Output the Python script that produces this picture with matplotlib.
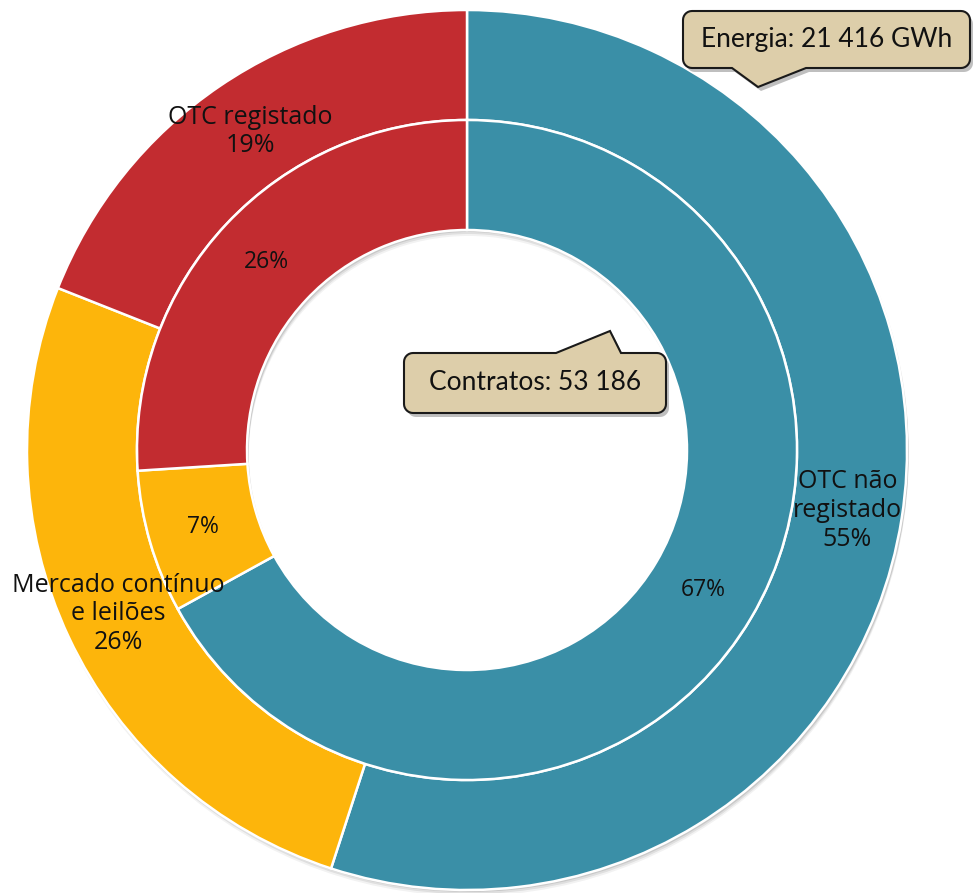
import matplotlib
matplotlib.use("Agg")
import matplotlib.pyplot as plt
import numpy as np
from matplotlib.patches import Polygon

# data
categories = ["OTC não\nregistado", "Mercado contínuo\ne leilões", "OTC registado"]
energia_pct = [55, 26, 19]      # outer ring (energy)
contratos_pct = [67, 7, 26]     # inner ring (contracts)
colors = ["#3A8FA7", "#FDB50B", "#C22C30"]
energia_txt = "Energia: 21 416 GWh"
contratos_txt = "Contratos: 53 186"

W, H = 976, 893


def px(x, y):
    # image pixel (top-left origin) -> figure fraction
    return x / W, 1 - y / H


def callout(fig, box, ptr, edge, text, r=9, fs=19):
    """rounded box with a pointer inserted on the top or bottom edge"""
    x0, y0, x1, y1 = box
    a, tip, b = ptr
    pts = []

    def arc(cx, cy, t0, t1):
        for t in np.linspace(np.radians(t0), np.radians(t1), 8):
            pts.append((cx + r * np.cos(t), cy - r * np.sin(t)))

    # walk clockwise in image coords, starting top-left
    arc(x0 + r, y0 + r, 180, 90)
    if edge == "top":
        pts.extend([a, tip, b])
    arc(x1 - r, y0 + r, 90, 0)
    arc(x1 - r, y1 - r, 0, -90)
    if edge == "bottom":
        pts.extend([b, tip, a])
    arc(x0 + r, y1 - r, -90, -180)

    shadow = [px(x + 3, y + 4) for x, y in pts]
    fig.patches.append(Polygon(shadow, closed=True, transform=fig.transFigure,
                               fc="#000000", ec="none", alpha=0.25, zorder=5))
    main = [px(x, y) for x, y in pts]
    fig.patches.append(Polygon(main, closed=True, transform=fig.transFigure,
                               fc="#DDCEAA", ec="#1A1A1A", lw=1.5, zorder=6))
    cx, cy = px((x0 + x1) / 2, (y0 + y1) / 2)
    fig.text(cx, cy, text, ha="center", va="center", fontsize=fs,
             family="Lato", color="#111111", zorder=7)


fig = plt.figure(figsize=(W / 100, H / 100), dpi=100)
ax = fig.add_axes([27 / W, 3 / H, 880 / W, 880 / H])

# soft shadow under the donut
for k, al in [(6, 0.05), (4, 0.08), (2, 0.1)]:
    ax.pie([1], radius=1.0, colors=["#000000"], startangle=90,
           wedgeprops=dict(width=0.5, edgecolor="none", alpha=al),
           center=(0.004, -k / 440))

outer, outer_t = ax.pie(energia_pct, radius=1.0, colors=colors, startangle=90,
                        counterclock=False,
                        labels=[f"{c}\n{v}%" for c, v in zip(categories, energia_pct)],
                        labeldistance=0.875,
                        wedgeprops=dict(width=0.25, edgecolor="white", linewidth=1.8))
inner, inner_t = ax.pie(contratos_pct, radius=0.75, colors=colors, startangle=90,
                        counterclock=False,
                        labels=[f"{v}%" for v in contratos_pct],
                        labeldistance=0.625 / 0.75,
                        wedgeprops=dict(width=0.25, edgecolor="white", linewidth=1.8))

for t, fs in [(t, 18) for t in outer_t] + [(t, 16.5) for t in inner_t]:
    t.set_ha("center")
    t.set_va("center")
    t.set_fontsize(fs)
    t.set_family("Open Sans")
    t.set_color("#111111")
    t.set_linespacing(1.2)

ax.set_xlim(-1, 1)
ax.set_ylim(-1, 1)
ax.set_aspect("auto")
ax.axis("off")

callout(fig, (683, 11, 970, 68), ((732, 68), (758, 87), (806, 68)), "bottom", energia_txt)
callout(fig, (404, 353, 666, 413), ((556, 353), (610, 331), (621, 353)), "top", contratos_txt)

fig.savefig("out.png", dpi=100)
